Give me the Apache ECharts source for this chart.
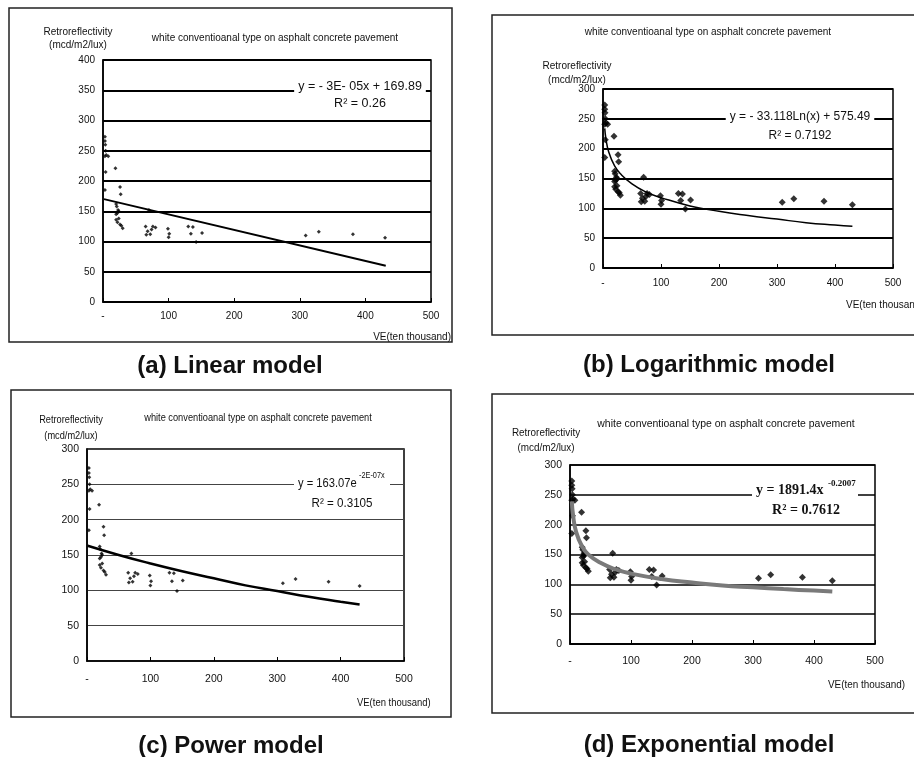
<!DOCTYPE html>
<html lang="en">
<head>
<meta charset="UTF-8">
<title>Retroreflectivity models</title>
<script src="https://cdn.jsdelivr.net/npm/echarts@6/dist/echarts.min.js"></script>
<style>
  html, body { margin: 0; padding: 0; background: #fff; }
</style>
</head>
<body>
<div id="main" style="width: 914px;height:757px;"></div>
<script type="text/javascript">
// measured points (VE in ten thousand, retroreflectivity)
var veX = [3, 3, 3.5, 4, 3, 5, 8, 4, 3,
    19, 26, 27,
    20, 21, 22, 20, 23, 24, 20, 22, 24, 26, 28, 30,
    65, 66, 68, 70, 72, 74, 76, 80,
    99, 100, 101,
    130, 134, 137, 142, 151,
    309, 329, 381, 430];
var retroY = [273, 266, 260, 250, 241, 243, 241, 215, 185,
    221, 190, 178,
    162, 158, 147, 145, 152, 150, 136, 132, 138, 128, 126, 122,
    125, 111, 117, 152, 112, 120, 125, 123,
    121, 107, 113,
    125, 113, 124, 99, 114,
    110, 116, 112, 106];

// trend lines
var linX = [1.5, 431];
var linY = [170, 60];
var logX = [3, 5, 10, 20, 30, 50, 75, 100, 150, 200, 250, 300, 350, 400, 430];
var logY = [234, 217, 194, 171, 158, 141, 127, 118, 104, 95, 88, 82, 76, 72, 70];
var expX = [1, 50, 100, 150, 200, 250, 300, 350, 400, 430];
var expY = [163, 150, 138, 127, 117, 107, 99, 91, 84, 80];
var powX = [3, 5, 10, 20, 30, 50, 75, 100, 150, 200, 250, 300, 350, 400, 430];
var powY = [239, 216, 188, 163, 150, 136, 125, 118, 109, 103, 98, 95, 92, 89.5, 88];

var captions = ['(a) Linear model', '(b) Logarithmic model', '(c) Power model', '(d) Exponential model'];
var chartTitle = 'white conventioanal type on asphalt concrete pavement';
var yName = 'Retroreflectivity\n(mcd/m2/lux)';
var xName = 'VE(ten thousand)';

function pairs(xs, ys) {
    return xs.map(function (x, i) { return [x, ys[i]]; });
}

var FONT = '"Liberation Sans", Arial, sans-serif';
var SERIF = '"Liberation Serif", "DejaVu Serif", serif';

var grids = [
    {left: 103, top: 60, width: 328, height: 242},
    {left: 603, top: 89, width: 290, height: 179},
    {left: 87, top: 449, width: 317, height: 212},
    {left: 570, top: 465, width: 305, height: 179}
];
var yMax = [400, 300, 300, 300];
var labelMargin = [9, 10, 13, 12];
var gridW = [2, 2, 1, 1.5];
var gridC = ['#000', '#000', '#444', '#000'];
var tickFont = [10, 10, 10.5, 10.5];

var xAxes = grids.map(function (g, i) {
    return {
        gridIndex: i, type: 'value', min: 0, max: 500, interval: 100,
        axisLine: {lineStyle: {color: '#000', width: 1.5}},
        axisTick: {inside: true, length: 4, lineStyle: {color: '#000'}},
        splitLine: {show: false},
        axisLabel: {
            color: '#111', fontSize: tickFont[i], fontFamily: FONT, margin: labelMargin[i],
            formatter: function (v) { return v === 0 ? '-' : String(v); }
        }
    };
});
var yAxes = grids.map(function (g, i) {
    return {
        gridIndex: i, type: 'value', min: 0, max: yMax[i], interval: 50,
        axisLine: {show: true, lineStyle: {color: '#000', width: 1.5}},
        axisTick: {show: false},
        splitLine: {lineStyle: {color: gridC[i], width: gridW[i]}},
        axisLabel: {color: '#111', fontSize: tickFont[i], fontFamily: FONT, margin: 8}
    };
});

var series = [];
var scatterSize = [4, 7, 4, 7];
for (var i = 0; i < 4; i++) {
    series.push({
        type: 'scatter', xAxisIndex: i, yAxisIndex: i,
        symbol: 'diamond', symbolSize: scatterSize[i],
        itemStyle: {color: '#000'},
        data: pairs(veX, retroY), z: 3
    });
}
series.push({type: 'line', xAxisIndex: 0, yAxisIndex: 0, showSymbol: false,
    lineStyle: {color: '#000', width: 2}, data: pairs(linX, linY), z: 4});
series.push({type: 'line', xAxisIndex: 1, yAxisIndex: 1, showSymbol: false, smooth: true,
    lineStyle: {color: '#000', width: 1.5}, data: pairs(logX, logY), z: 4});
series.push({type: 'line', xAxisIndex: 2, yAxisIndex: 2, showSymbol: false, smooth: true,
    lineStyle: {color: '#000', width: 2.5}, data: pairs(expX, expY), z: 4});
series.push({type: 'line', xAxisIndex: 3, yAxisIndex: 3, showSymbol: false, smooth: true,
    lineStyle: {color: '#7a7a7a', width: 4}, data: pairs(powX, powY), z: 4});

// text helper; sx squeezes the text horizontally (condensed look of panels c/d)
function txt(x, y, s, font, align, extra, sx) {
    var st = {text: s, font: font, fill: '#111', textAlign: align || 'center', textVerticalAlign: 'middle'};
    if (extra) { for (var k in extra) st[k] = extra[k]; }
    return {type: 'text', x: x, y: y, z: 100, scaleX: sx || 1, style: st};
}

var graphics = [
    // panel frames
    {type: 'rect', shape: {x: 9, y: 8, width: 443, height: 334}, style: {fill: null, stroke: '#222', lineWidth: 1.5}},
    {type: 'rect', shape: {x: 492, y: 15, width: 440, height: 320}, style: {fill: null, stroke: '#222', lineWidth: 1.5}},
    {type: 'rect', shape: {x: 11, y: 390, width: 440, height: 327}, style: {fill: null, stroke: '#222', lineWidth: 1.5}},
    {type: 'rect', shape: {x: 492, y: 394, width: 440, height: 319}, style: {fill: null, stroke: '#222', lineWidth: 1.5}},

    // chart titles
    txt(275, 38, chartTitle, '10px ' + FONT),
    txt(708, 32, chartTitle, '10px ' + FONT),
    txt(258, 418, chartTitle, '11px ' + FONT, 'center', null, 0.84),
    txt(726, 424, chartTitle, '11px ' + FONT, 'center', null, 0.95),

    // y axis names
    txt(78, 39, yName, '10px ' + FONT, 'center', {lineHeight: 13}),
    txt(577, 73, yName, '10px ' + FONT, 'center', {lineHeight: 14}),
    txt(71, 428, yName, '11px ' + FONT, 'center', {lineHeight: 16}, 0.84),
    txt(546, 440, yName, '11px ' + FONT, 'center', {lineHeight: 15}, 0.9),

    // x axis names
    txt(451, 337, xName, '10px ' + FONT, 'right'),
    txt(846, 305, xName, '10px ' + FONT, 'left'),
    txt(357, 703, xName, '11px ' + FONT, 'left', null, 0.86),
    txt(828, 685, xName, '11px ' + FONT, 'left', null, 0.9),

    // equations
    txt(360, 87, 'y = - 3E- 05x + 169.89', '12.5px ' + FONT, 'center', {backgroundColor: '#fff', padding: [1, 4]}),
    txt(360, 104, 'R² = 0.26', '12.5px ' + FONT),
    txt(800, 117, 'y = - 33.118Ln(x) + 575.49', '12px ' + FONT, 'center', {backgroundColor: '#fff', padding: [1, 4]}),
    txt(800, 136, 'R² = 0.7192', '12px ' + FONT),
    {type: 'rect', z: 99, shape: {x: 294, y: 475, width: 96, height: 15}, style: {fill: '#fff'}},
    txt(298, 483, 'y = 163.07e', '13px ' + FONT, 'left', null, 0.86),
    txt(359, 476, '-2E-07x', '8.5px ' + FONT, 'left', null, 0.86),
    txt(342, 503, 'R² = 0.3105', '13.5px ' + FONT, 'center', null, 0.86),
    {type: 'rect', z: 99, shape: {x: 752, y: 481, width: 106, height: 17}, style: {fill: '#fff'}},
    txt(756, 490, 'y = 1891.4x', 'bold 14px ' + SERIF, 'left'),
    txt(828, 484, '-0.2007', 'bold 9px ' + SERIF, 'left'),
    txt(806, 510, 'R² = 0.7612', 'bold 14px ' + SERIF),

    // captions
    txt(230, 366, captions[0], 'bold 24px ' + FONT),
    txt(709, 365, captions[1], 'bold 24px ' + FONT),
    txt(231, 746, captions[2], 'bold 24px ' + FONT),
    txt(709, 745, captions[3], 'bold 24px ' + FONT)
];

var myChart = echarts.init(document.getElementById('main'), null, {renderer: 'canvas'});
myChart.setOption({
    backgroundColor: '#fff',
    animation: false,
    grid: grids.map(function (g) {
        return {left: g.left, top: g.top, width: g.width, height: g.height,
            show: true, borderColor: '#000', borderWidth: 1.5, backgroundColor: 'transparent'};
    }),
    xAxis: xAxes,
    yAxis: yAxes,
    series: series,
    graphic: {elements: graphics}
});
</script>
</body>
</html>
